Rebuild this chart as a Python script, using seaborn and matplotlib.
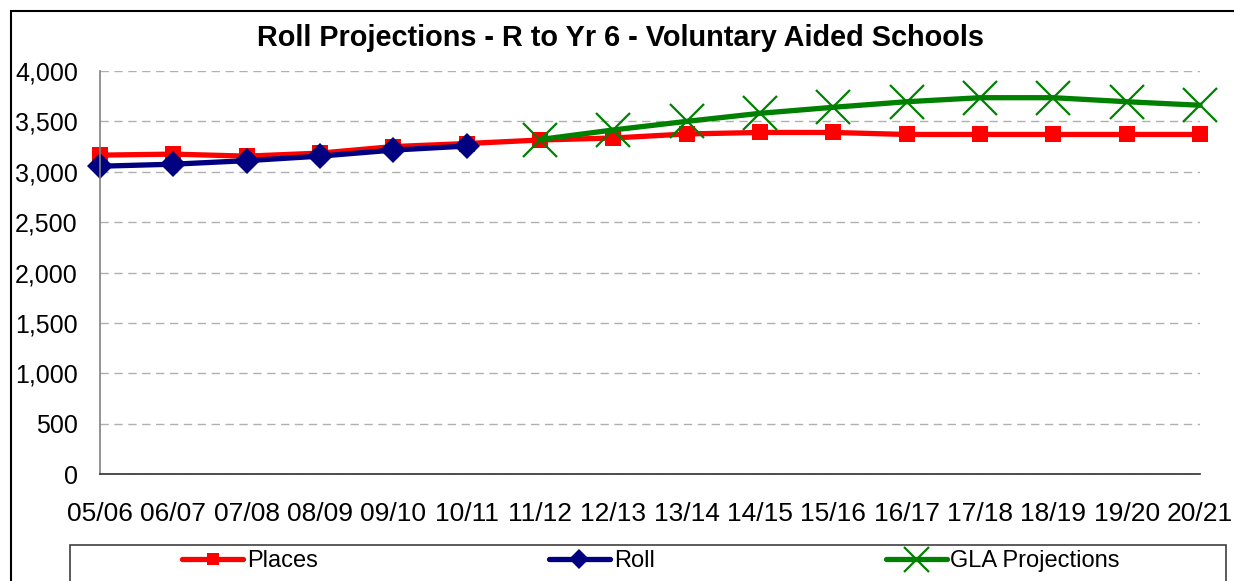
import numpy as np
import pandas as pd
import matplotlib
matplotlib.use("Agg")
import matplotlib.pyplot as plt
import seaborn as sns
from matplotlib.patches import Rectangle
from matplotlib.ticker import FuncFormatter

# chart data
years = ["05/06", "06/07", "07/08", "08/09", "09/10", "10/11", "11/12", "12/13",
         "13/14", "14/15", "15/16", "16/17", "17/18", "18/19", "19/20", "20/21"]
places = [3165, 3175, 3155, 3185, 3250, 3280, 3315, 3335, 3375, 3390, 3390, 3370,
          3370, 3370, 3370, 3370]
roll = [3055, 3075, 3110, 3155, 3215, 3255]
gla = [3320, 3415, 3500, 3580, 3640, 3695, 3735, 3735, 3695, 3660]

sns.set_theme(style="white")
plt.rcParams["font.family"] = ["Liberation Sans", "DejaVu Sans"]
plt.rcParams["text.color"] = "black"

idx = np.arange(len(years))
df_places = pd.DataFrame({"x": idx, "v": places})
df_roll = pd.DataFrame({"x": idx[:len(roll)], "v": roll})
df_gla = pd.DataFrame({"x": idx[len(years) - len(gla):], "v": gla})

fig = plt.figure(figsize=(12.34, 5.81), dpi=100)
W, H = 1234, 581
ax = fig.add_axes([100 / W, 1 - 474 / H, 1100 / W, 403 / H])

sns.lineplot(data=df_places, x="x", y="v", ax=ax, color="#FF0000", linewidth=3.8,
             marker="s", markersize=12, markeredgewidth=0, markeredgecolor="#FF0000",
             label="Places", clip_on=False)
sns.lineplot(data=df_roll, x="x", y="v", ax=ax, color="#000080", linewidth=3.8,
             marker="D", markersize=13, markeredgewidth=0, markeredgecolor="#000080",
             label="Roll", clip_on=False)
sns.lineplot(data=df_gla, x="x", y="v", ax=ax, color="#008000", linewidth=3.8,
             marker="x", markersize=24, markeredgewidth=1.6, markeredgecolor="#008000",
             label="GLA Projections", clip_on=False)

ax.set_xlim(0, len(years) - 1)
ax.set_ylim(0, 4000)
ax.set_xticks(idx)
ax.set_xticklabels(years)
ax.set_yticks(np.arange(0, 4001, 500))
ax.yaxis.set_major_formatter(FuncFormatter(lambda v, p: f"{int(v):,}"))
ax.set_xlabel("")
ax.set_ylabel("")
ax.grid(axis="y", color="#b0b0b0", linestyle=(0, (6, 4)), linewidth=1)
ax.set_axisbelow(True)
for s in ["top", "right"]:
    ax.spines[s].set_visible(False)
ax.spines["left"].set_color("#808080")
ax.spines["bottom"].set_color("#303030")
ax.spines["left"].set_linewidth(1.2)
ax.spines["bottom"].set_linewidth(1.2)
ax.tick_params(axis="both", which="major", direction="out", length=5, width=1.2,
               colors="#404040", labelcolor="black", labelsize=19)
ax.tick_params(axis="y", labelsize=18, pad=11)
ax.tick_params(axis="x", pad=15)

fig.suptitle("Roll Projections - R to Yr 6 - Voluntary Aided Schools",
             x=620 / W, y=1 - 38 / H, va="center", fontsize=20.8, fontweight="bold",
             color="black")

# outer chart border and legend box
fig.patches.append(Rectangle((11 / W, -0.1), 1.1, 1 - 11 / H + 0.1, transform=fig.transFigure,
                             fill=False, edgecolor="black", linewidth=1.5))
fig.patches.append(Rectangle((70 / W, -0.1), 1156 / W, 1 - 545 / H + 0.1,
                             transform=fig.transFigure, fill=False,
                             edgecolor="#404040", linewidth=1.2))

ax.legend_.remove()
handles, labels = ax.get_legend_handles_labels()
fig.legend(handles, labels, loc="center left", ncol=3, mode="expand",
           bbox_to_anchor=(182 / W, 1 - 561 / H, 938 / W, 0), frameon=False,
           fontsize=17, handlelength=2.6, handletextpad=0.15, markerscale=0.75,
           borderaxespad=0, borderpad=0)

fig.savefig("out.png", dpi=100)
